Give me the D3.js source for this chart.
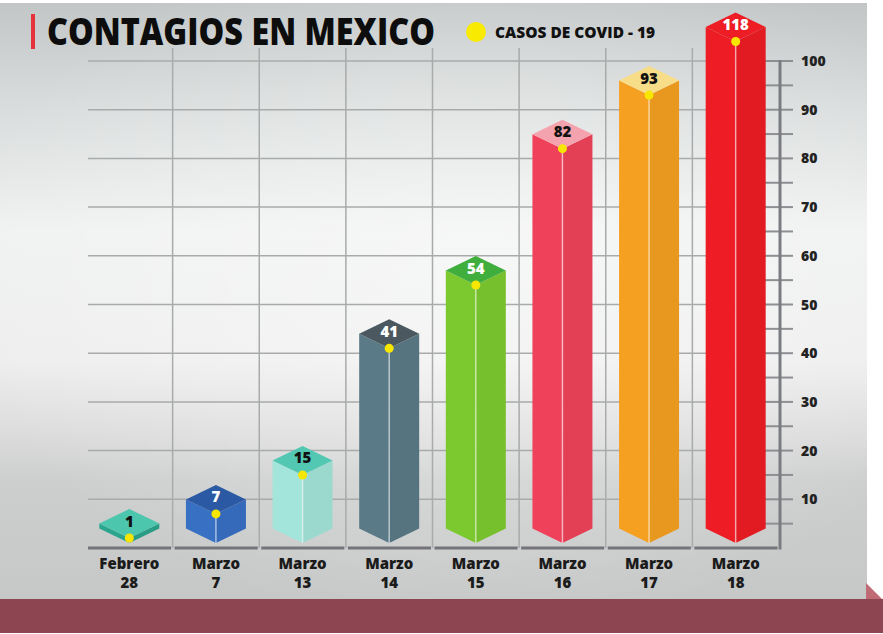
<!DOCTYPE html>
<html>
<head>
<meta charset="utf-8">
<script src="https://cdn.jsdelivr.net/npm/d3@7"></script>
<style>
  body { margin: 0; background: #fff; }
  svg { display: block; }
  text { font-family: "Open Sans", "Noto Sans", sans-serif; }
</style>
</head>
<body>
<div id="chart"></div>
<script>
const width = 883;
const height = 634;

// data
const months = ["Febrero", "Marzo", "Marzo", "Marzo", "Marzo", "Marzo", "Marzo", "Marzo"];
const days = ["28", "7", "13", "14", "15", "16", "17", "18"];
const cases = [1, 7, 15, 41, 54, 82, 93, 118];
const majorTicks = [10, 20, 30, 40, 50, 60, 70, 80, 90, 100];
const minorTicks = [5, 15, 25, 35, 45, 55, 65, 75, 85, 95];

// styles
const frontColors = ["#2ba58d", "#3870c4", "#a3e5da", "#5a7a87", "#7cc92f", "#ef425a", "#f6a021", "#ee1c25"];
const topColors = ["#4cc6ad", "#2b59a3", "#52c8b3", "#4b5860", "#3fae3c", "#f4a2ad", "#f7dd88", "#ee1c25"];
const labelColors = ["#111", "#fff", "#111", "#fff", "#fff", "#111", "#111", "#fff"];

const yMaxShown = 104; // tallest bar gets cut at the top of the panel
const halfW = 30, halfH = 14.5;

const svg = d3.select("#chart").append("svg")
    .attr("width", width)
    .attr("height", height);

const defs = svg.append("defs");
const bg = defs.append("linearGradient").attr("id", "bg")
    .attr("x1", 0).attr("y1", 0).attr("x2", 0).attr("y2", 1);
[[0, "#c2c6c6"], [0.18, "#dadddd"], [0.38, "#f0f1f1"], [0.6, "#eeeeee"], [0.72, "#dcdcdc"], [0.8, "#cdcece"], [1, "#c6c7c7"]]
    .forEach(function(s) { bg.append("stop").attr("offset", s[0]).attr("stop-color", s[1]); });
const glow = defs.append("radialGradient").attr("id", "glow")
    .attr("cx", 0.55).attr("cy", 0.45).attr("r", 0.6);
glow.append("stop").attr("offset", 0).attr("stop-color", "#fff").attr("stop-opacity", 0.45);
glow.append("stop").attr("offset", 1).attr("stop-color", "#fff").attr("stop-opacity", 0);

// panel
svg.append("rect").attr("x", 0).attr("y", 3).attr("width", 867).attr("height", 597).attr("fill", "url(#bg)");
svg.append("rect").attr("x", 0).attr("y", 3).attr("width", 867).attr("height", 597).attr("fill", "url(#glow)");
svg.append("polygon").attr("points", "866,583 883,600 866,600").attr("fill", "#c06a75");
svg.append("rect").attr("x", 0).attr("y", 599).attr("width", width).attr("height", 34).attr("fill", "#8e4552");

// scales
const x = d3.scaleBand().domain(d3.range(cases.length)).range([86, 779]).padding(0);
const y = d3.scaleLinear().domain([0, 100]).range([548, 61]);

// grid
const grid = svg.append("g");
grid.selectAll(".h").data(majorTicks).enter().append("line")
    .attr("x1", 88).attr("x2", 766)
    .attr("y1", function(d) { return y(d); }).attr("y2", function(d) { return y(d); })
    .attr("stroke", "#a9abab").attr("stroke-width", 1.5);
grid.selectAll(".v").data(d3.range(1, cases.length)).enter().append("line")
    .attr("x1", function(i) { return x(i); }).attr("x2", function(i) { return x(i); })
    .attr("y1", 48).attr("y2", y(0))
    .attr("stroke", "#a9abab").attr("stroke-width", 1.5);

// baseline segments
grid.selectAll(".base").data(d3.range(cases.length)).enter().append("line")
    .attr("x1", function(i) { return x(i) + 2; }).attr("x2", function(i) { return x(i) + x.bandwidth() - 1.5; })
    .attr("y1", y(0)).attr("y2", y(0))
    .attr("stroke", "#74747a").attr("stroke-width", 3);

// right axis
const axis = svg.append("g");
axis.selectAll(".tick").data(majorTicks.concat(minorTicks)).enter().append("line")
    .attr("x1", 765).attr("x2", 793)
    .attr("y1", function(d) { return y(d); }).attr("y2", function(d) { return y(d); })
    .attr("stroke", "#8d8f92").attr("stroke-width", 2);
axis.append("line").attr("x1", 780).attr("x2", 780).attr("y1", y(100) - 1).attr("y2", y(0) + 1.5)
    .attr("stroke", "#7b7c82").attr("stroke-width", 3);
axis.selectAll(".lab").data(majorTicks).enter().append("text")
    .attr("x", 801).attr("y", function(d) { return y(d) + 5; })
    .attr("font-size", 14).attr("font-weight", 800).attr("fill", "#222")
    .text(function(d) { return d; });

// bars
const bottomC = y(0) - 5;
const bars = svg.append("g").selectAll("g").data(cases).enter().append("g");

function topC(d) { return Math.min(y(Math.min(d, yMaxShown)), bottomC - 5); }

bars.append("path") // left front
    .attr("d", function(d, i) {
        const cx = x(i) + x.bandwidth() / 2, t = topC(d);
        return "M" + (cx - halfW) + "," + (t - halfH) + "L" + cx + "," + t + "L" + cx + "," + bottomC +
            "L" + (cx - halfW) + "," + (bottomC - halfH) + "Z";
    })
    .attr("fill", function(d, i) { return frontColors[i]; });
bars.append("path") // right front
    .attr("d", function(d, i) {
        const cx = x(i) + x.bandwidth() / 2, t = topC(d);
        return "M" + (cx + halfW) + "," + (t - halfH) + "L" + cx + "," + t + "L" + cx + "," + bottomC +
            "L" + (cx + halfW) + "," + (bottomC - halfH) + "Z";
    })
    .attr("fill", function(d, i) { return d3.color(frontColors[i]).darker(0.15); });
bars.append("path") // top face
    .attr("d", function(d, i) {
        const cx = x(i) + x.bandwidth() / 2, t = topC(d);
        return "M" + cx + "," + (t - 2 * halfH) + "L" + (cx + halfW) + "," + (t - halfH) + "L" + cx + "," + t +
            "L" + (cx - halfW) + "," + (t - halfH) + "Z";
    })
    .attr("fill", function(d, i) { return topColors[i]; });
bars.append("line")
    .attr("x1", function(d, i) { return x(i) + x.bandwidth() / 2; })
    .attr("x2", function(d, i) { return x(i) + x.bandwidth() / 2; })
    .attr("y1", function(d) { return topC(d); }).attr("y2", bottomC)
    .attr("stroke", "#fff").attr("stroke-opacity", 0.55).attr("stroke-width", 1.5);
bars.append("circle")
    .attr("cx", function(d, i) { return x(i) + x.bandwidth() / 2; })
    .attr("cy", function(d) { return topC(d); })
    .attr("r", 4.5).attr("fill", "#f7e600");
bars.append("text")
    .attr("x", function(d, i) { return x(i) + x.bandwidth() / 2; })
    .attr("y", function(d) { return topC(d) - halfH + 3; })
    .attr("text-anchor", "middle").attr("font-size", 15).attr("font-weight", 800)
    .attr("fill", function(d, i) { return labelColors[i]; })
    .text(function(d) { return d; });

// category labels
const cats = svg.append("g").selectAll("text").data(months).enter().append("text")
    .attr("text-anchor", "middle").attr("font-size", 15).attr("font-weight", 800).attr("fill", "#1b1b1b")
    .attr("x", function(d, i) { return x(i) + x.bandwidth() / 2; });
cats.append("tspan").attr("y", 569).text(function(d) { return d; });
cats.append("tspan").attr("y", 588)
    .attr("x", function(d, i) { return x(i) + x.bandwidth() / 2; })
    .text(function(d, i) { return days[i]; });

// title + legend
svg.append("rect").attr("x", 31).attr("y", 14).attr("width", 4).attr("height", 35).attr("fill", "#e6323d");
svg.append("text").attr("x", 47).attr("y", 45)
    .attr("font-size", 37).attr("font-weight", 800).attr("fill", "#0d0d0d")
    .attr("textLength", 388).attr("lengthAdjust", "spacingAndGlyphs")
    .text("CONTAGIOS EN MEXICO");
svg.append("circle").attr("cx", 476).attr("cy", 32).attr("r", 10).attr("fill", "#f8ea00");
svg.append("text").attr("x", 495).attr("y", 38)
    .attr("font-size", 15).attr("font-weight", 800).attr("fill", "#111")
    .attr("textLength", 160).attr("lengthAdjust", "spacingAndGlyphs")
    .text("CASOS DE COVID - 19");
</script>
</body>
</html>
